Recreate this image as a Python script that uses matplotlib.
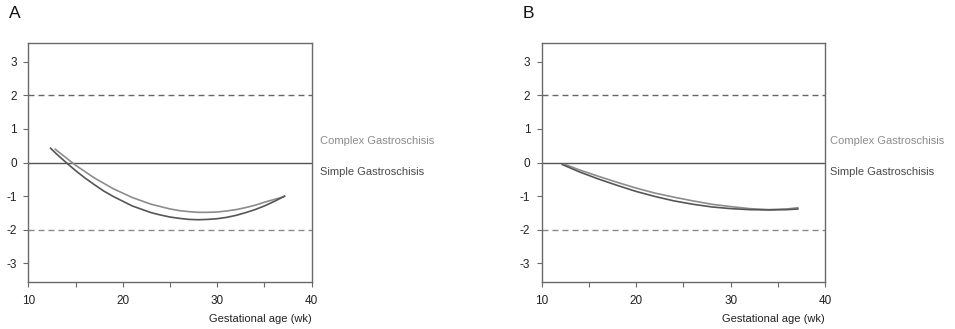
import matplotlib.pyplot as plt

plt.rcParams['font.family'] = ['Liberation Sans', 'DejaVu Sans']

# gestational age (wk) and z-score
age_simple_a = [12.3, 13, 14, 15, 16, 17, 18, 19, 20, 21, 22, 23, 24, 25, 26, 27, 28,
                29, 30, 31, 32, 33, 34, 35, 36, 37, 37.2]
z_simple_a = [0.44, 0.25, 0.0, -0.24, -0.46, -0.66, -0.85, -1.01, -1.15, -1.29, -1.39, -1.49,
              -1.56, -1.62, -1.66, -1.69, -1.70, -1.69, -1.67, -1.63, -1.57, -1.49, -1.40,
              -1.29, -1.16, -1.02, -0.99]
age_complex_a = [12.8, 13, 14, 15, 16, 17, 18, 19, 20, 21, 22, 23, 24, 25, 26, 27, 28,
                 29, 30, 31, 32, 33, 34, 35, 36, 37, 37.2]
z_complex_a = [0.41, 0.36, 0.14, -0.08, -0.27, -0.46, -0.62, -0.78, -0.91, -1.04, -1.14, -1.24,
               -1.31, -1.38, -1.43, -1.46, -1.48, -1.48, -1.47, -1.44, -1.40, -1.34, -1.27,
               -1.18, -1.10, -1.02, -0.99]

age_simple_b = [12.1, 14, 16, 18, 20, 22, 24, 26, 28, 30, 32, 34, 36, 37.2]
z_simple_b = [-0.05, -0.28, -0.49, -0.68, -0.86, -1.01, -1.14, -1.24, -1.32, -1.37, -1.40, -1.41, -1.40, -1.38]
age_complex_b = [12.3, 14, 16, 18, 20, 22, 24, 26, 28, 30, 32, 34, 36, 37.2]
z_complex_b = [-0.04, -0.22, -0.41, -0.59, -0.76, -0.91, -1.03, -1.14, -1.24, -1.31, -1.37, -1.40, -1.38, -1.34]

y_ticks = [-3, -2, -1, 0, 1, 2, 3]
x_ticks = [10, 15, 20, 25, 30, 35, 40]
x_labels = ['10', '', '20', '', '30', '', '40']

DARK = '#555555'
LIGHT = '#8c8c8c'
AXIS = '#6a6a6a'

fig = plt.figure(figsize=(9.55, 3.29), dpi=100)

panels = [
    ('A', 28.3 / 955, age_simple_a, z_simple_a, age_complex_a, z_complex_a, 1.031),
    ('B', 541.7 / 955, age_simple_b, z_simple_b, age_complex_b, z_complex_b, 1.016),
]

for letter, left, xs, ys, xc, yc, text_x in panels:
    ax = fig.add_axes([left, 47 / 329, 283.4 / 955, 239 / 329])
    ax.set_xlim(10, 40)
    ax.set_ylim(-3.55, 3.55)

    ax.axhline(2, color='#666666', lw=1.0, dashes=(4.3, 2.9))
    ax.axhline(-2, color='#8a8a8a', lw=1.0, dashes=(4.3, 2.9))
    ax.axhline(0, color=DARK, lw=1.0)

    ax.plot(xc, yc, color=LIGHT, lw=1.2, solid_capstyle='butt')
    ax.plot(xs, ys, color=DARK, lw=1.2, solid_capstyle='butt')

    for sp in ax.spines.values():
        sp.set_color(AXIS)
        sp.set_linewidth(1.0)

    ax.set_yticks(y_ticks)
    ax.set_yticklabels([str(t) for t in y_ticks])
    ax.set_xticks(x_ticks)
    ax.set_xticklabels(x_labels)
    ax.tick_params(axis='both', colors=AXIS, length=3.3, width=0.8,
                   labelsize=8.5, labelcolor='#222222')
    ax.tick_params(axis='x', pad=6)
    ax.tick_params(axis='y', pad=5)

    ax.text(text_x, 0.63, 'Complex Gastroschisis', color='#8c8c8c', fontsize=8,
            va='center', ha='left', transform=ax.get_yaxis_transform())
    ax.text(text_x, -0.27, 'Simple Gastroschisis', color='#4a4a4a', fontsize=8,
            va='center', ha='left', transform=ax.get_yaxis_transform())

    ax.text(1.0, -37 / 239, 'Gestational age (wk)', transform=ax.transAxes,
            ha='right', va='center', fontsize=8, color='#222222')

    fig.text(left - 19 / 955, 1 - 14 / 329, letter,
             fontsize=12.5, ha='left', va='center', color='#111111')

fig.savefig('out.png', dpi=100)
